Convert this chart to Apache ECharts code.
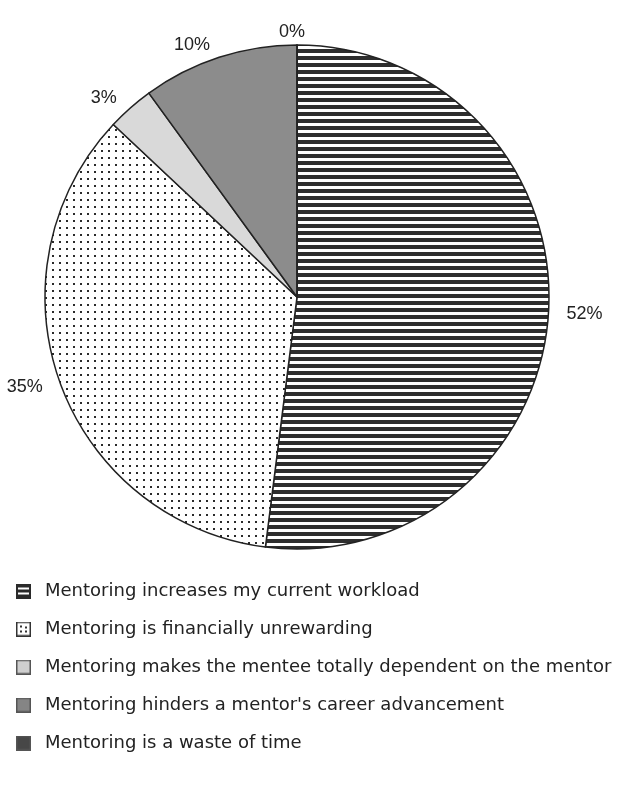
<!DOCTYPE html>
<html><head><meta charset="utf-8">
<script src="https://cdn.jsdelivr.net/npm/echarts@6/dist/echarts.min.js"></script>
<style>html,body{margin:0;padding:0;background:#fff}#c{width:631px;height:792px}</style>
</head><body><div id="c"></div>
<script>
const categories = [
  "Mentoring increases my current workload",
  "Mentoring is financially unrewarding",
  "Mentoring makes the mentee totally dependent on the mentor",
  "Mentoring hinders a mentor's career advancement",
  "Mentoring is a waste of time"
];
const values = [52, 35, 3, 10, 0];
const labels = ["52%", "35%", "3%", "10%", "0%"];

function mk(w, h, draw) { const c = document.createElement('canvas'); c.width = w; c.height = h; draw(c.getContext('2d')); return c; }
const stripe = mk(8, 7, g => { g.fillStyle = '#fff'; g.fillRect(0,0,8,7); g.fillStyle = '#2e2e2e'; g.fillRect(0,0,8,4); });
const dots = mk(7, 7, g => { g.fillStyle = '#fff'; g.fillRect(0,0,7,7); g.fillStyle = '#2a2a2a'; g.fillRect(3,3,2,2); });
const fills = [
  { image: stripe, repeat: 'repeat' },
  { image: dots, repeat: 'repeat' },
  '#d9d9d9', '#8c8c8c', '#4a4a4a'
];
function icon(kind) {
  return 'image://' + mk(15, 15, g => {
    if (kind === 0) { g.fillStyle = '#2a2a2a'; g.fillRect(0,0,15,15); g.fillStyle = '#fff'; g.fillRect(2,4,11,2); g.fillRect(2,9,11,2); }
    else if (kind === 1) { g.fillStyle = '#333'; g.fillRect(0,0,15,15); g.fillStyle = '#fff'; g.fillRect(1.5,1.5,12,12); g.fillStyle = '#333'; g.fillRect(4,4,2,2); g.fillRect(9,5,2,2); g.fillRect(4,9,2,2); g.fillRect(9,9,2,2); }
    else { const cs = ['', '', '#cfcfcf', '#858585', '#474747']; g.fillStyle = '#555'; g.fillRect(0,0,15,15); g.fillStyle = cs[kind]; g.fillRect(1.5,1.5,12,12); }
  }).toDataURL();
}

const chart = echarts.init(document.getElementById('c'), null, { renderer: 'canvas' });
chart.setOption({
  animation: false,
  backgroundColor: '#fff',
  legend: {
    orient: 'vertical', left: 11, top: 577, itemWidth: 15, itemHeight: 15, itemGap: 20,
    selectedMode: false,
    textStyle: { fontSize: 18, fontFamily: 'DejaVu Sans, sans-serif', color: '#222', padding: [0, 0, 0, 9] },
    data: categories.map((n, i) => ({ name: n, icon: icon(i) }))
  },
  series: [{
    type: 'pie', center: [297, 297], radius: 252, startAngle: 90, clockwise: true,
    avoidLabelOverlap: false,
    itemStyle: { borderColor: '#222', borderWidth: 1.5 },
    label: { show: true, position: 'outside', fontSize: 18, fontFamily: '"Liberation Sans", Arial, sans-serif', color: '#222', formatter: p => labels[p.dataIndex] },
    labelLine: { show: false, length: 13, length2: 0 },
    labelLayout: p => (values[p.dataIndex] === 0 ? { align: 'center' } : {}),
    emphasis: { disabled: true },
    data: categories.map((n, i) => ({ name: n, value: values[i], itemStyle: { color: fills[i] } }))
  }]
});
</script></body></html>
